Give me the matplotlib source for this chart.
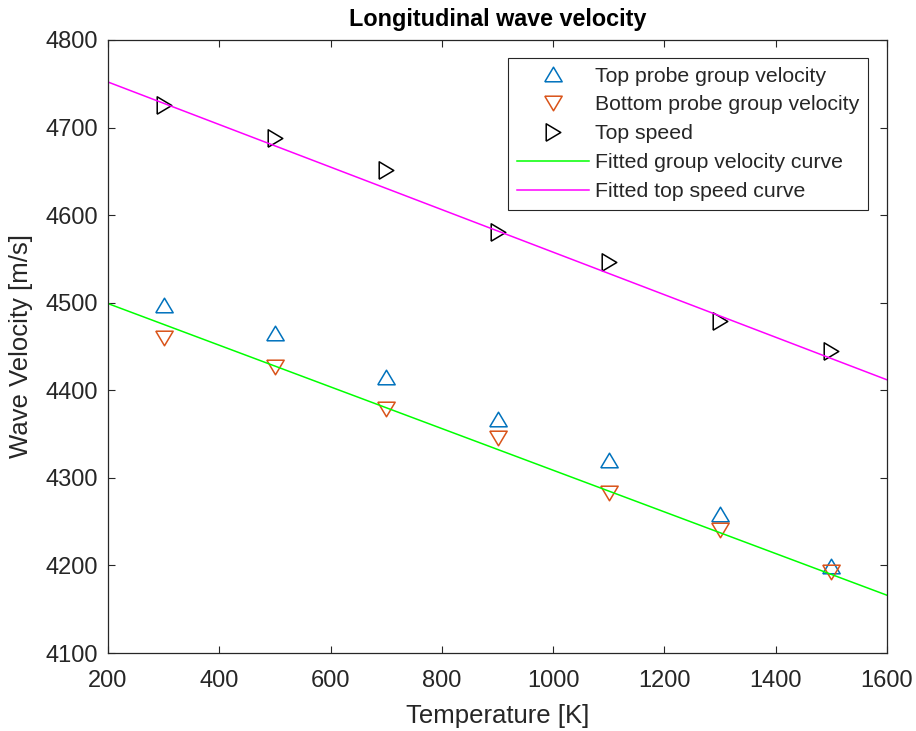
import numpy as np
import matplotlib
matplotlib.use("Agg")
import matplotlib.pyplot as plt

# Measured wave velocities versus temperature
temperature = [300, 500, 700, 900, 1100, 1300, 1500]          # K
top_probe_velocity = [4497, 4465, 4415, 4367, 4320, 4259, 4199]     # m/s
bottom_probe_velocity = [4460, 4427, 4379, 4346, 4283, 4240, 4193]  # m/s
top_speed = [4726, 4688, 4652, 4581, 4547, 4479, 4445]              # m/s

# Linear fits: (slope, intercept)
group_fit = (-0.2379, 4546.6)
top_speed_fit = (-0.2429, 4800.6)
fit_range = [200, 1600]

x_ticks = [200, 400, 600, 800, 1000, 1200, 1400, 1600]
y_ticks = [4100, 4200, 4300, 4400, 4500, 4600, 4700, 4800]

plt.rcParams['font.family'] = ['Liberation Sans', 'DejaVu Sans']

ink = '#262626'
blue = '#0072BD'
orange = '#D95319'

# Triangle markers, slightly flattened along their pointing axis
tri_up = [(-1, -0.84), (1, -0.84), (0, 0.84), (-1, -0.84)]
tri_down = [(-1, 0.84), (1, 0.84), (0, -0.84), (-1, 0.84)]
tri_right = [(-0.84, -1), (-0.84, 1), (0.84, 0), (-0.84, -1)]

fig = plt.figure(figsize=(9.16, 7.31), dpi=100)
ax = fig.add_axes([108 / 916, 1 - 653 / 731, (887 - 108) / 916, (653 - 40) / 731])

ms = 12.5
ax.plot(temperature, top_probe_velocity, linestyle='none', marker=tri_up, ms=ms,
        mfc='none', mec=blue, mew=1.1, label='Top probe group velocity')
ax.plot(temperature, bottom_probe_velocity, linestyle='none', marker=tri_down, ms=ms,
        mfc='none', mec=orange, mew=1.1, label='Bottom probe group velocity')
ax.plot(temperature, top_speed, linestyle='none', marker=tri_right, ms=ms,
        mfc='none', mec='black', mew=1.1, label='Top speed')

xf = np.array(fit_range, dtype=float)
ax.plot(xf, np.polyval(group_fit, xf), color='#00FF00', lw=1.1,
        label='Fitted group velocity curve')
ax.plot(xf, np.polyval(top_speed_fit, xf), color='#FF00FF', lw=1.1,
        label='Fitted top speed curve')

ax.set_xlim(200, 1600)
ax.set_ylim(4100, 4800)
ax.set_xticks(x_ticks)
ax.set_yticks(y_ticks)

for s in ax.spines.values():
    s.set_color(ink)
    s.set_linewidth(0.9)
ax.tick_params(direction='in', length=5, width=0.8, colors=ink, labelsize=17,
               top=True, right=True, pad=7)
ax.tick_params(axis='x', pad=12)

ax.set_xlabel('Temperature [K]', fontsize=18.5, color=ink, labelpad=9)
ax.set_ylabel('Wave Velocity [m/s]', fontsize=18.5, color=ink, labelpad=9)
ax.set_title('Longitudinal wave velocity', fontsize=16.8, fontweight='bold',
             color='black', pad=10)

leg = ax.legend(loc='upper right', bbox_to_anchor=(868 / 916, 1 - 58 / 731),
                bbox_transform=fig.transFigure, borderaxespad=0,
                fontsize=15.3, handlelength=3.4, handletextpad=0.3,
                labelspacing=0.47, borderpad=0.4, fancybox=False,
                edgecolor=ink, framealpha=1)
leg.get_frame().set_linewidth(0.8)
for t in leg.get_texts():
    t.set_color(ink)

fig.savefig('out.png', dpi=100, facecolor='white')
